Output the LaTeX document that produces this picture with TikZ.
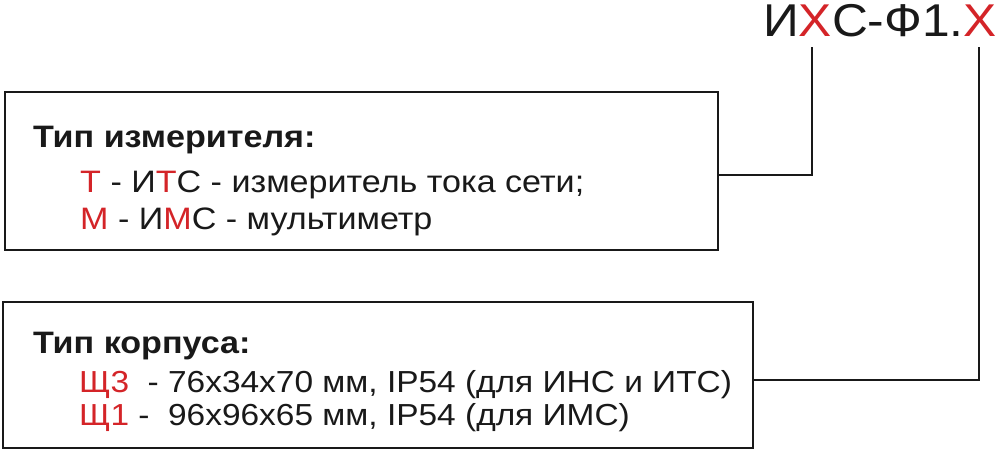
\documentclass[tikz,border=0pt]{standalone}
\usepackage{fontspec}
\setmainfont{Liberation Sans}
\newfontfamily\wfont[FakeStretch=1.1]{Liberation Sans}
\newfontfamily\tfont[FakeStretch=1.08]{Liberation Sans}
\definecolor{tred}{RGB}{212,36,40}
\definecolor{tblack}{RGB}{25,25,25}
\begin{document}
\begin{tikzpicture}[x=1pt,y=-1pt,
  boxst/.style={draw=tblack,line width=2pt,inner sep=0pt,anchor=north west},
  wire/.style={draw=tblack,line width=2pt},
  txt/.style={anchor=base west,inner sep=0pt,text=tblack,font=\wfont\fontsize{31}{35}\selectfont},
  txtb/.style={txt,font=\wfont\fontsize{30.4}{35}\selectfont},
  head/.style={txt,font=\wfont\fontsize{31}{35}\selectfont\bfseries},
  ttl/.style={anchor=base west,inner sep=0pt,text=tblack,font=\tfont\fontsize{46}{50}\selectfont}]
\useasboundingbox (0,0) rectangle (1000,451);
\fill[white] (0,0) rectangle (1000,451);
% title
\node[ttl] (title) at (763,36) {И\textcolor{tred}{Х}С-Ф1.\textcolor{tred}{Х}};
\coordinate (x1) at (812,47);
\coordinate (x2) at (979,47);
% box 1
\node[boxst,minimum width=713pt,minimum height=158pt] (box1) at (4,91) {};
\node[head] (h1) at (33,147) {Тип измерителя:};
\node[txt] (l11) at (80,192) {\textcolor{tred}{Т} - И\textcolor{tred}{Т}С - измеритель тока сети;};
\node[txt] (l12) at (80,229) {\textcolor{tred}{М} - И\textcolor{tred}{М}С - мультиметр};
% box 2
\node[boxst,minimum width=750pt,minimum height=146pt] (box2) at (2,301) {};
\node[head] (h2) at (33,353) {Тип корпуса:};
\node[txtb] (l21) at (79,392) {\textcolor{tred}{Щ3}\ \ - 76x34x70 мм, IP54 (для ИНС и ИТС)};
\node[txtb] (l22) at (79,425) {\textcolor{tred}{Щ1} -\ \ 96x96x65 мм, IP54 (для ИМС)};
% connectors
\draw[wire] ([yshift=-4pt]box1.east) -| (x1);
\draw[wire] ([yshift=-5pt]box2.east) -| (x2);
\end{tikzpicture}
\end{document}
